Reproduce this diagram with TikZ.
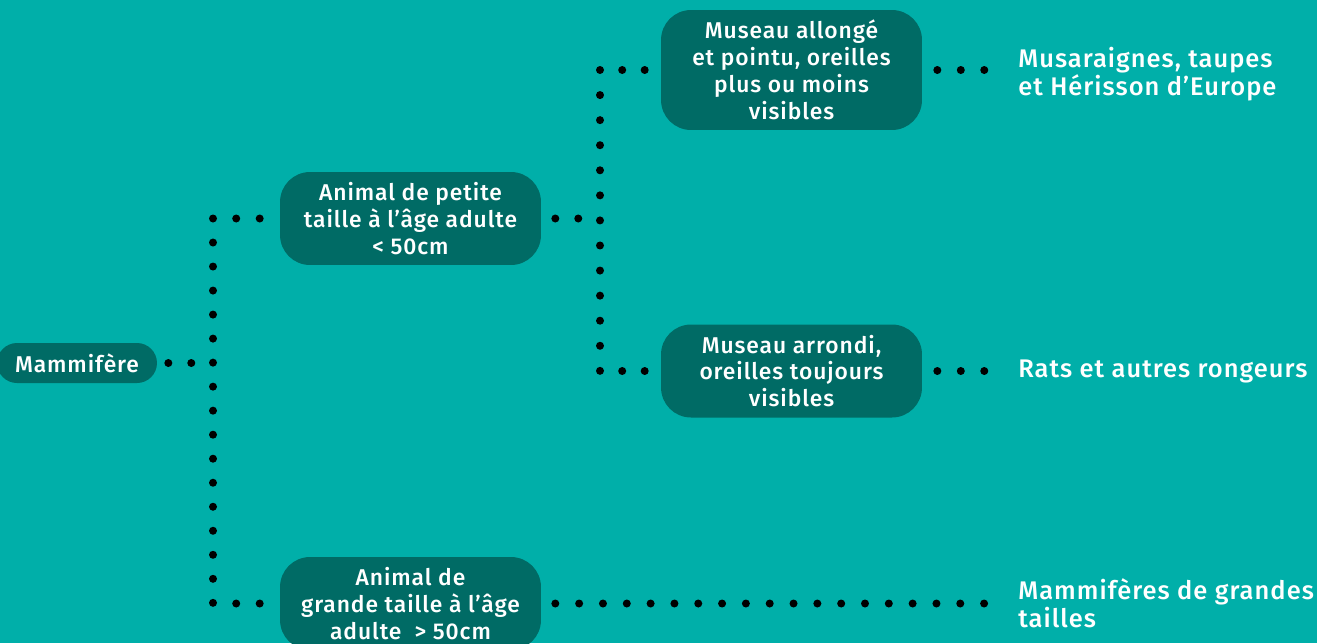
\documentclass[tikz,border=0pt]{standalone}
\usepackage{fontspec}
\setmainfont{Fira Sans}[UprightFont={* Medium}, LetterSpace=4]
\usepackage{tikz}
\usetikzlibrary{positioning, calc}
\definecolor{lagoon}{HTML}{00AFA9}
\definecolor{pine}{HTML}{006B65}

\begin{document}
\begin{tikzpicture}[
  x=0.02cm, y=-0.02cm,
  keybox/.style={fill=pine, text=white, rounded corners=0.6cm, minimum width=5.22cm, minimum height=1.86cm, align=center, inner sep=0pt, font=\fontsize{13}{15.3}\selectfont},
  rootbox/.style={fill=pine, text=white, rounded corners=0.4cm, minimum width=3.2cm, minimum height=0.8cm, inner sep=0pt, font=\fontsize{13}{15.3}\selectfont},
  result/.style={anchor=west, text=white, align=left, inner sep=0pt, font=\fontsize{14.5}{15}\selectfont},
  dotline/.style={line width=0.16cm, line cap=round, dash pattern=on 0pt off #1},
  dotline/.default=0.48cm
]
\fill[lagoon] (0,0) rectangle (1317,643);
\useasboundingbox (0,0) rectangle (1317,643);

\node[rootbox] (mam) at (77,363) {Mammifère};
\node[keybox] (small) at (410.5,218.5) {Animal de petite\\taille à l’âge adulte\\< 50cm};
\node[keybox] (big) at (410.5,603.5) {Animal de\\grande taille à l’âge\\adulte~ > 50cm};
\node[keybox, minimum height=2.4cm] (pointu) at (791.5,70) {Museau allongé\\et pointu, oreilles\\plus ou moins\\visibles};
\node[keybox] (arrondi) at (791.5,371) {Museau arrondi,\\oreilles toujours\\visibles};

\node[result] (musar) at (1018,74.5) {Musaraignes, taupes\\et Hérisson d’Europe};
\node[result] (rats) at (1018,371) {Rats et autres rongeurs};
\node[result] (grands) at (1018,603) {Mammifères de grandes\\[1pt]tailles};

\coordinate (trunkA) at (213,363);
\coordinate (trunkB) at (600,218);

% first key
\draw[dotline=0.459cm] ([xshift=0.22cm]mam.east) -- ++(0.46cm,0);
\draw[dotline=0.4805cm] (trunkA |- small.west) -- (trunkA |- big.west);
\draw[dotline=0.4695cm] ([xshift=-0.4cm]small.west) -- (trunkA |- small.west);
\draw[dotline=0.4695cm] ([xshift=-0.4cm]big.west) -- (trunkA |- big.west);

% second key
\draw[dotline=0.459cm] ([xshift=0.28cm]small.east) -- ++(0.46cm,0);
\draw[dotline=0.5015cm] (trunkB |- pointu.west) -- (trunkB |- arrondi.west);
\draw[dotline=0.4495cm] ([xshift=-0.32cm]pointu.west) -- (trunkB |- pointu.west);
\draw[dotline=0.4495cm] ([xshift=-0.32cm]arrondi.west) -- (trunkB |- arrondi.west);

% results
\draw[dotline=0.4695cm] ([xshift=0.3cm]pointu.east) -- ($(pointu.east -| musar.west)+(-0.64cm,0)$);
\draw[dotline=0.4695cm] ([xshift=0.3cm]arrondi.east) -- ($(arrondi.east -| rats.west)+(-0.64cm,0)$);
\draw[dotline=0.4765cm] ([xshift=0.28cm]big.east) -- ($(big.east -| grands.west)+(-0.64cm,0)$);
\end{tikzpicture}
\end{document}
